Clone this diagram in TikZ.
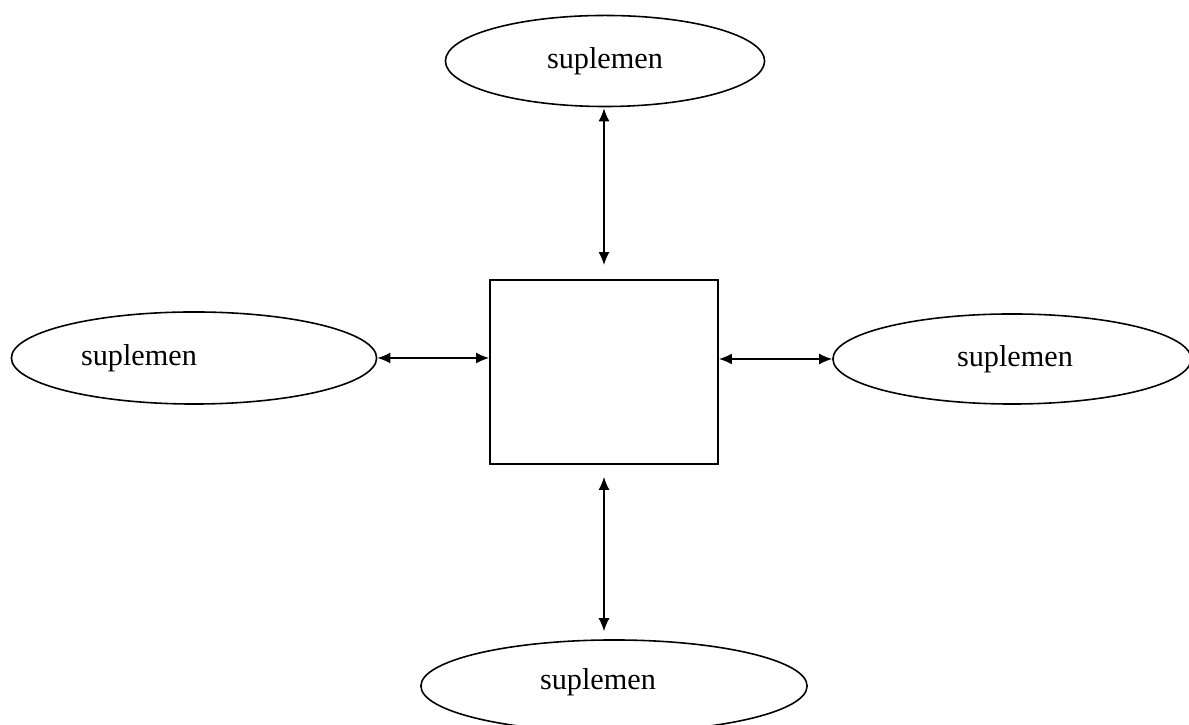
\documentclass[tikz,border=0pt]{standalone}
\usepackage{fontspec}
\setmainfont{Liberation Serif}
\usepackage{tikz}
\usetikzlibrary{
    shapes.geometric,
    arrows.meta,
    calc
}
\tikzset{
  supp/.style = {
      draw,
      ellipse,
      line width=0.45pt,
      inner sep=0pt,
      minimum height=0.91cm
  },
  core/.style = {
      draw,
      rectangle,
      line width=0.5pt,
      minimum width=2.28cm,
      minimum height=1.84cm
  },
  link/.style = {
      line width=0.4pt,
      {Latex[length=1.3mm,width=1.1mm]}-{Latex[length=1.3mm,width=1.1mm]}
  }
}

\begin{document}
\begin{tikzpicture}[x=0.01cm, y=0.01cm, font=\fontsize{8.6}{10}\selectfont]
        \useasboundingbox (0,0) rectangle (1189,725);
        \node[core] (box) at (604,353) {};
        \node[supp, minimum width=3.19cm] (top) at (605,664) {suplemen};
        \node[supp, minimum width=3.65cm, minimum height=0.92cm,
              label={[xshift=-5.5mm]center:suplemen}] (left) at (194,367) {};
        \node[supp, minimum width=3.58cm, minimum height=0.90cm,
              label={[xshift=0.3mm]center:suplemen}] (right) at (1012,366) {};
        \node[supp, minimum width=3.86cm, minimum height=0.92cm,
              label={[xshift=-1.6mm,yshift=0.4mm]center:suplemen}] (bot) at (614,39) {};
        % Edges
        \draw[link] ($(box.north)+(0,14)$) -- ($(top.south -| box.north)+(0,-1)$);
        \draw[link] ($(box.south)+(0,-12)$) -- ($(bot.north -| box.south)+(0,8)$);
        \draw[link] (left.east) -- (left.east -| box.west);
        \draw[link] (right.west -| box.east) -- (right.west);
    \end{tikzpicture}
\end{document}
